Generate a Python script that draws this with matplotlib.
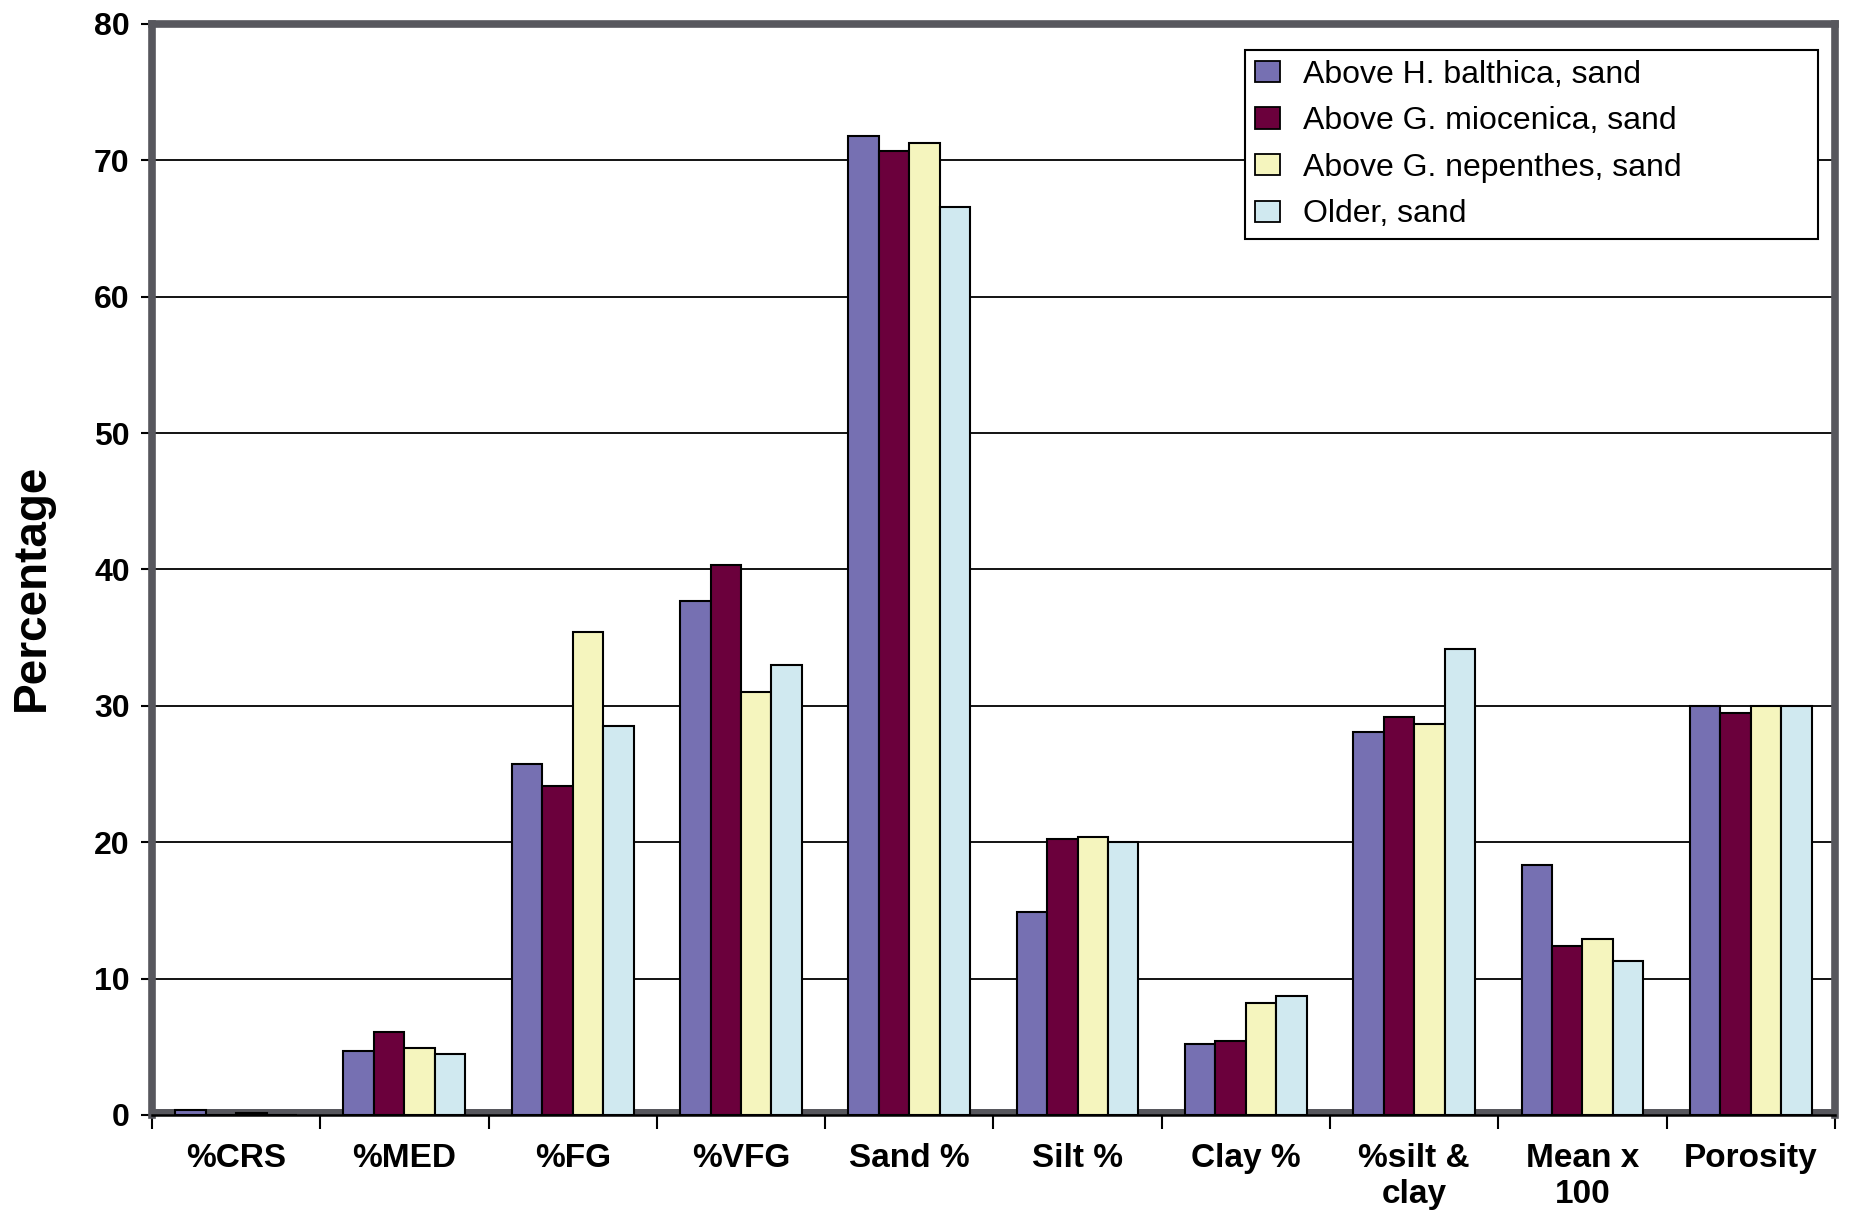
import numpy as np
import matplotlib
matplotlib.use("Agg")
import matplotlib.pyplot as plt
from matplotlib.patches import Patch
from matplotlib.ticker import FixedLocator, MultipleLocator

# ------------------------------
# Grain-size data per horizon
# ------------------------------
CATEGORIES = ["%CRS", "%MED", "%FG", "%VFG", "Sand %", "Silt %", "Clay %",
              "%silt &\nclay", "Mean x\n100", "Porosity"]

SERIES_NAMES = ["Above H. balthica, sand",
                "Above G. miocenica, sand",
                "Above G. nepenthes, sand",
                "Older, sand"]

BALTHICA   = [0.35, 4.7, 25.7, 37.7, 71.8, 14.9, 5.2, 28.1, 18.3, 30.0]
MIOCENICA  = [0.0,  6.1, 24.1, 40.3, 70.7, 20.2, 5.4, 29.2, 12.4, 29.5]
NEPENTHES  = [0.15, 4.9, 35.4, 31.0, 71.3, 20.4, 8.2, 28.7, 12.9, 30.0]
OLDER      = [0.0,  4.5, 28.5, 33.0, 66.6, 20.0, 8.7, 34.2, 11.3, 30.0]

COLORS = ["#7670B2", "#6B003C", "#F5F5BE", "#D0E9F0"]
WALL = "#57575d"

plt.rcParams['font.family'] = ['Liberation Sans', 'DejaVu Sans']

fig = plt.figure(figsize=(18.6, 12.16), dpi=100)
ax = fig.add_axes([0.0817, 0.0831, 0.9048, 0.8972])

x = np.arange(len(CATEGORIES))
w = 0.181
all_series = [BALTHICA, MIOCENICA, NEPENTHES, OLDER]
for i, (vals, col) in enumerate(zip(all_series, COLORS)):
    ax.bar(x + (i - 1.5) * w, vals, w, color=col, edgecolor="black",
           linewidth=1.5, zorder=3)

# grey floor strip along the base
ax.axhspan(0, 0.45, color=WALL, zorder=1, lw=0)

ax.set_xlim(-0.5, len(CATEGORIES) - 0.5)
ax.set_ylim(0, 80)

# horizontal grid lines
for yv in range(10, 80, 10):
    ax.axhline(yv, color="black", lw=1.3, zorder=0.5)

ax.yaxis.set_major_locator(MultipleLocator(10))
ax.tick_params(axis="y", direction="out", length=8, width=1.5, pad=8,
               labelsize=23)
for lab in ax.get_yticklabels():
    lab.set_fontweight("bold")

ax.set_xticks(x)
ax.set_xticklabels(CATEGORIES, fontsize=24, fontweight="bold", linespacing=1.2,
                   va="top")
ax.xaxis.set_minor_locator(FixedLocator(np.arange(-0.5, len(CATEGORIES), 1.0)))
ax.tick_params(axis="x", which="major", length=0, pad=20)
ax.tick_params(axis="x", which="minor", direction="out", length=10, width=1.5)

for side in ["left", "top", "right"]:
    ax.spines[side].set_color(WALL)
    ax.spines[side].set_linewidth(5.5)
ax.spines["bottom"].set_color("black")
ax.spines["bottom"].set_linewidth(1.8)

fig.text(32 / 1860, 1 - 587 / 1216, "Percentage", rotation=90,
         ha="center", va="center", fontsize=33, fontweight="bold")

handles = [Patch(facecolor=c, edgecolor="black", linewidth=1.3) for c in COLORS]
leg = ax.legend(handles, SERIES_NAMES, loc="upper left", mode="expand",
                bbox_to_anchor=(0.6694, 0.8043, 0.308, 0.1546),
                bbox_transform=fig.transFigure, borderaxespad=0,
                fontsize=23, frameon=True, fancybox=False, framealpha=1,
                edgecolor="black", handlelength=0.8, handleheight=0.65,
                handletextpad=0.7, labelspacing=0.52, borderpad=0.3)
leg.get_frame().set_linewidth(1.5)
leg.set_zorder(5)

fig.savefig("out.png", dpi=100)
